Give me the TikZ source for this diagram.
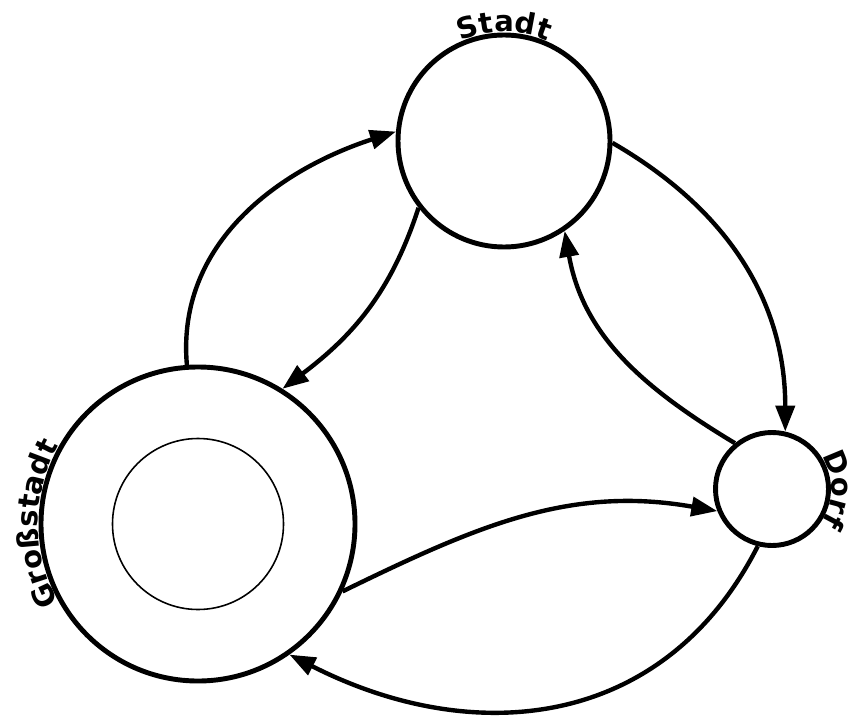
\documentclass[tikz,border=0pt]{standalone}
\usepackage{fontspec}
\newfontfamily\placefont{DejaVu Sans}
\usetikzlibrary{arrows.meta, decorations.text}
\newcommand{\labelfmt}{\placefont\bfseries\fontsize{16.5pt}{20pt}\selectfont}
\newcommand{\gap}{0.06cm}
\tikzset{
    place/.style={draw, circle, line width=2.8pt, inner sep=0pt},
    link/.style={-{Triangle[length=5.2mm, width=3.8mm]}, line width=2.5pt},
    placelabel/.style={decorate, decoration={text along path, text align=center, text={|\labelfmt|#1}}}
}

\begin{document}
\begin{tikzpicture}
    \useasboundingbox (0,0) rectangle (17.04,14.54);

    % places
    \node[place, minimum size=4.24cm] (S) at (10.08,11.72) {};
    \node[place, minimum size=6.28cm] (G) at (3.96,4.06) {};
    \node[draw, circle, line width=0.9pt, minimum size=3.42cm] (Gi) at (3.96,4.06) {};
    \node[place, minimum size=2.26cm] (D) at (15.44,4.76) {};

    % labels along the circles
    \path[placelabel=Stadt] (S.center) ++(150:2.12cm+\gap) arc[start angle=150, end angle=30, radius=2.12cm+\gap];
    \path[placelabel=Großstadt] (G.center) ++(240:3.14cm+\gap) arc[start angle=240, end angle=120, radius=3.14cm+\gap];
    \path[placelabel=Dorf] (D.center) ++(50:1.13cm+\gap) arc[start angle=50, end angle=-50, radius=1.13cm+\gap];

    % moves
    \draw[link] (G.94) to[out=95, in=198] (S.175);
    \draw[link] (S.218) to[out=252, in=37] (G.58);
    \draw[link] (S.-1) to[out=-30, in=90] (D.77);
    \draw[link] (D.129) to[out=149, in=-80] (S.-56);
    \draw[link] (G.-25) to[out=26, in=170] (D.202);
    \draw[link] (D.256) to[out=243, in=-27, looseness=1.1] (G.-55);
\end{tikzpicture}
\end{document}
